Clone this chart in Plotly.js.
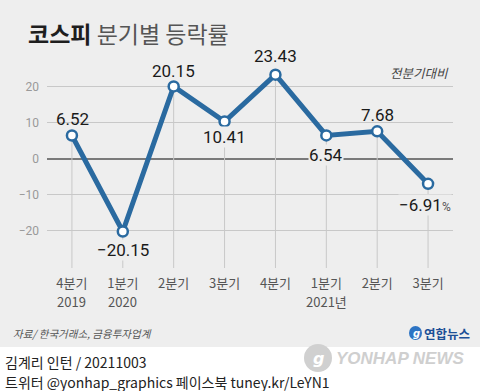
<!DOCTYPE html>
<html><head><meta charset="utf-8">
<script src="https://cdn.plot.ly/plotly-3.0.1.min.js"></script>
<style>html,body{margin:0;padding:0;background:#eeeeee}#c{width:480px;height:391px}</style>
</head><body><div id="c"></div>
<script>
var quarters = ['4분기','1분기','2분기','3분기','4분기','1분기','2분기','3분기'];
var years = ['2019','2020','','','','2021년','',''];
var values = [6.52, -20.15, 20.15, 10.41, 23.43, 6.54, 7.68, -6.91];
var labelTexts = ['6.52','−20.15','20.15','10.41','23.43','6.54','7.68','−6.91<span style="font-size:12px;color:#555">%</span>'];
var labelAbove = [true, false, true, false, true, false, true, false];
var yTicks = [-20, -10, 0, 10, 20];

var idx = quarters.map(function(_, i){ return i; });
var yBottom = -30.3, yTop = 30;
var L = 47, R = 27, T = 51, B = 123, W = 480, H = 391;
var pw = W - L - R, ph = H - T - B;
function px(x){ return (x - L) / pw; }
function py(y){ return 1 - (y - T) / ph; }

var blue = '#2a6aa0';
var traces = [];
idx.forEach(function(i){
  traces.push({x:[i,i], y:[values[i], yBottom], mode:'lines', line:{color:'#c8c8c8', width:1}, hoverinfo:'skip', showlegend:false});
});
traces.push({x: idx, y: values, mode:'lines+markers', line:{color:blue, width:5},
  marker:{size:10, color:'#ffffff', line:{color:blue, width:2.5}}, showlegend:false, cliponaxis:false});

var ann = [];
var shiftsAbove = [17, 0, 15, 0, 19, 0, 16, 0];
var shiftsBelow = [0, 19, 0, 15, 0, 20, 0, 21];
var xShift = [1, 0, 0, 0, 0, 0, 0, -3];
idx.forEach(function(i){
  ann.push({x:i, y:values[i], xref:'x', yref:'y', text:labelTexts[i], showarrow:false,
    yshift: labelAbove[i] ? shiftsAbove[i] : -shiftsBelow[i], xshift: xShift[i],
    font:{family:'Roboto, sans-serif', size:17, color:'#1a1a1a'},
    bgcolor: labelAbove[i] ? 'rgba(0,0,0,0)' : '#eeeeee', borderpad:0});
  if (years[i]) {
    ann.push({x:i, y:py(301), xref:'x', yref:'paper', text:years[i], showarrow:false, yanchor:'middle',
      font:{family:'Noto Sans CJK KR', size:13, color:'#555'}});
  }
});
ann.push({xref:'paper', yref:'paper', x:px(26), y:py(33), xanchor:'left', yanchor:'middle', showarrow:false,
  text:'<b>코스피</b> <span style="color:#555">분기별 등락률</span>',
  font:{family:'Noto Sans CJK KR', size:23, color:'#1e1e1e'}});
ann.push({xref:'paper', yref:'paper', x:px(451), y:py(72), xanchor:'right', yanchor:'middle', showarrow:false,
  text:'<i>전분기대비</i>', font:{family:'Noto Sans CJK KR', size:12.5, color:'#444'}});
ann.push({xref:'paper', yref:'paper', x:px(11), y:py(333), xanchor:'left', yanchor:'middle', showarrow:false,
  text:'<i>자료/ 한국거래소, 금융투자업계</i>', font:{family:'Noto Sans CJK KR', size:10.5, color:'#555'}});
ann.push({xref:'paper', yref:'paper', x:px(422), y:py(333), xanchor:'left', yanchor:'middle', showarrow:false,
  text:'<b>연합뉴스</b>', font:{family:'Noto Sans CJK KR', size:12.5, color:'#1c4f96'}});
ann.push({xref:'paper', yref:'paper', x:px(416), y:py(333), xanchor:'center', yanchor:'middle', showarrow:false,
  text:'<i><b>g</b></i>', font:{family:'DejaVu Sans', size:10, color:'#ffffff'}});
ann.push({xref:'paper', yref:'paper', x:px(3), y:py(362), xanchor:'left', yanchor:'middle', showarrow:false,
  text:'김계리 인턴 / 20211003', font:{family:'Noto Sans CJK KR', size:14, color:'#222'}});
ann.push({xref:'paper', yref:'paper', x:px(3), y:py(382), xanchor:'left', yanchor:'middle', showarrow:false,
  text:'트위터 @yonhap_graphics 페이스북 tuney.kr/LeYN1', font:{family:'Noto Sans CJK KR', size:14, color:'#222'}});
ann.push({xref:'paper', yref:'paper', x:px(334), y:py(358), xanchor:'left', yanchor:'middle', showarrow:false,
  text:'<b><i>YONHAP NEWS</i></b>', font:{family:'Liberation Sans', size:17, color:'#cfcfcf'}});
ann.push({xref:'paper', yref:'paper', x:px(318), y:py(358), xanchor:'center', yanchor:'middle', showarrow:false,
  text:'<b><i>g</i></b>', font:{family:'DejaVu Sans', size:16, color:'#ffffff'}});

var shapes = [
  {type:'rect', xref:'paper', yref:'paper', x0:px(-5), x1:px(490), y0:py(347), y1:py(400), fillcolor:'#ffffff', line:{width:0}, layer:'below'},
  {type:'circle', xref:'paper', yref:'paper', x0:px(409), x1:px(422), y0:py(340), y1:py(326), fillcolor:'#2d74c4', line:{width:0}},
  {type:'circle', xref:'paper', yref:'paper', x0:px(304), x1:px(332), y0:py(372), y1:py(344), fillcolor:'#d0d0d0', line:{width:0}}
];

var layout = {
  width: W, height: H, margin:{l:L, r:R, t:T, b:B},
  paper_bgcolor:'#eeeeee', plot_bgcolor:'rgba(0,0,0,0)',
  xaxis:{range:[-0.49, 7.49], tickvals: idx, ticktext: quarters, showgrid:false, zeroline:false, showline:false,
    ticks:'', tickfont:{family:'Noto Sans CJK KR', size:13, color:'#555'}, ticklabelstandoff:6, fixedrange:true},
  yaxis:{range:[yBottom, yTop], tickvals: yTicks, showgrid:true, gridcolor:'#c8c8c8', gridwidth:1,
    zeroline:true, zerolinecolor:'#7a7a7a', zerolinewidth:1.5, ticks:'', ticklabelstandoff:7,
    tickfont:{family:'Roboto, sans-serif', size:12, color:'#999'}, fixedrange:true},
  annotations: ann, shapes: shapes, showlegend:false
};
Plotly.newPlot('c', traces, layout, {staticPlot:true});
</script></body></html>
